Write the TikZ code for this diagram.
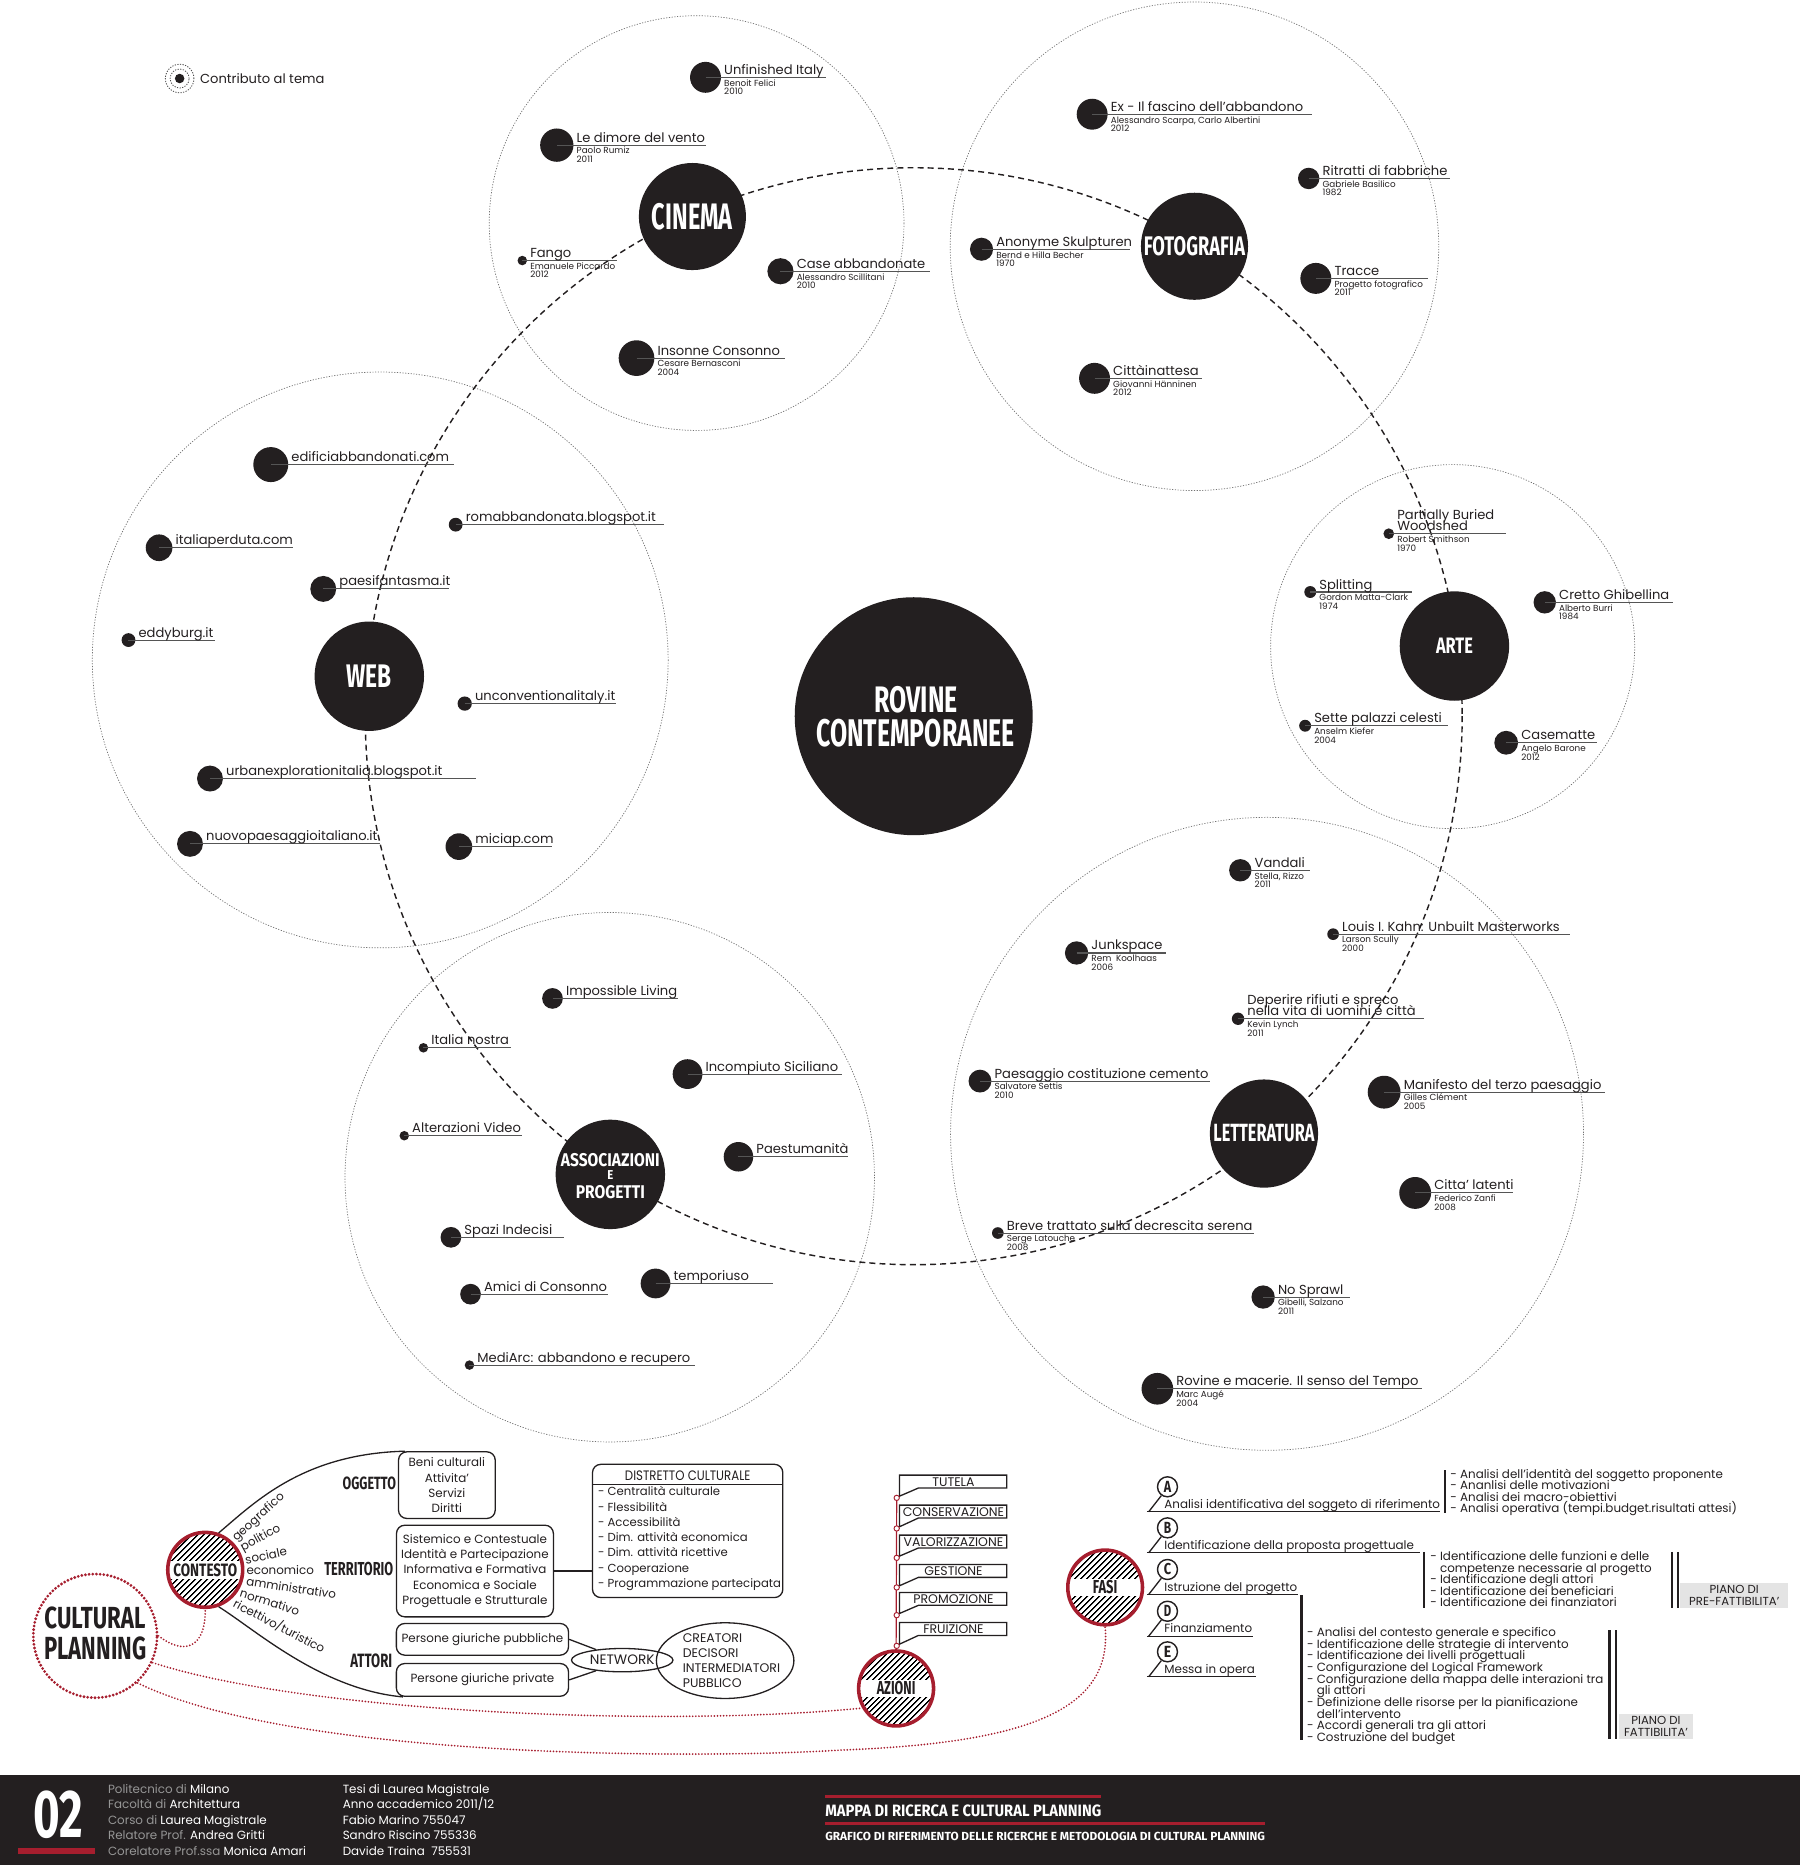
\documentclass[tikz,border=0pt]{standalone}
\usepackage{fontspec}
\usepackage{graphicx}
\setmainfont{Poppins}
\newfontfamily\cond{Fira Sans}
\newfontfamily\gnar{Poppins}[FakeStretch=0.86]
\usetikzlibrary{patterns.meta,shapes.geometric}
\definecolor{ink}{RGB}{35,31,32}
\definecolor{dred}{RGB}{166,30,46}
\definecolor{ulc}{RGB}{85,85,85}
\definecolor{pgray}{RGB}{228,228,228}
\definecolor{fgray}{RGB}{150,150,150}
\newcommand\fsz[2]{\fontsize{#1}{#2}\selectfont}
\newcommand\cnd[3]{\resizebox{#1pt}{#2pt}{\cond\bfseries #3}}
\tikzset{
 region/.style={draw=black!55, line width=0.6pt, dash pattern=on 1pt off 1.3pt},
 ring/.style={draw=ink, line width=1.2pt, dash pattern=on 5pt off 3.5pt},
 ttl/.style={font=\fsz{11}{11}},
 subt/.style={font=\fsz{7.4}{7.4}},
 ul/.style={draw=ulc, line width=0.9pt},
 cat/.style={circle, fill=ink},
 rbox/.style={draw=ink, line width=1.1pt, rounded corners=7pt},
 reddot/.style={draw=dred, line width=1.6pt, line cap=round, dash pattern=on 0pt off 2.6pt},
 cpdot/.style={draw=dred, line width=2.6pt, line cap=round, dash pattern=on 0pt off 3.1pt},
 lst/.style={font=\fsz{10}{10}, anchor=base west},
 flagtxt/.style={font=\fsz{10.5}{10.5}},
 boxtxt/.style={font=\fsz{10}{10}}
}
\newcommand\itm[8]{%
 \node[cat, minimum size={2*#4pt}] (#1) at (#2,#3) {};
 \draw[ul] (#1.center) -- (#8,#3);
 \node[ttl, anchor=base west] (#1t) at ({#2+#4+2.5},{#3-2.5}) {#5};
 \node[subt, anchor=base west] (#1a) at ({#2+#4+2.5},{#3+7.4}) {#6};
 \node[subt, anchor=base west] (#1b) at ({#2+#4+2.5},{#3+14.6}) {#7};}
\newcommand\itmm[9]{%
 \node[cat, minimum size={2*#4pt}] (#1) at (#2,#3) {};
 \draw[ul] (#1.center) -- (#9,#3);
 \node[ttl, anchor=base west] (#1u) at ({#2+#4+2.5},{#3-11.8}) {#5};
 \node[ttl, anchor=base west] (#1t) at ({#2+#4+2.5},{#3-2.5}) {#6};
 \node[subt, anchor=base west] (#1a) at ({#2+#4+2.5},{#3+7.4}) {#7};
 \node[subt, anchor=base west] (#1b) at ({#2+#4+2.5},{#3+14.6}) {#8};}
\newcommand\itw[6]{%
 \node[cat, minimum size={2*#4pt}] (#1) at (#2,#3) {};
 \draw[ul] (#1.center) -- (#6,#3);
 \node[ttl, anchor=base west] (#1t) at ({#2+#4+2.5},{#3-2.5}) {#5};}
\newcommand\hatchc[7]{%
 \begin{scope}
 \clip (#2,#3) circle (#4);
 \fill[pattern={Lines[angle=45,distance=4pt,line width=1.4pt]}] (#2,#3) circle (#4);
 \fill[white] ({#2-#4},{#3-7.5}) rectangle ({#2+#4},{#3+7.5});
 \end{scope}
 \node[circle, draw=dred, line width=3pt, minimum size={2*#4pt}] (#1) at (#2,#3) {};
 \node (#1l) at (#2,#3) {\cnd{#5}{#6}{#7}};}
\begin{document}
\begin{tikzpicture}[x=1pt,y=-1pt, every node/.style={inner sep=0pt, text=ink}]
\useasboundingbox (0,0) rectangle (1513,1567.6);
% region circles
\draw[region] (585.5,187.5) circle (174.3);
\draw[region] (1004,207) circle (205.3);
\draw[region] (319.6,554.7) circle (242);
\draw[region] (1221,543.5) circle (153);
\draw[region] (1065,953) circle (266);
\draw[region] (512.5,989.5) circle (222.5);
% ring
\draw[ring] (768,602) circle (461);
% legend
\node[circle, draw=black!70, line width=0.7pt, dash pattern=on 1pt off 1.2pt, minimum size=24pt] (lego) at (151,66) {};
\node[circle, draw=black!70, line width=0.7pt, dash pattern=on 1pt off 1.2pt, minimum size=16pt] (legm) at (151,66) {};
\node[cat, minimum size=8pt] (legi) at (151,66) {};
\node[anchor=west, font=\fsz{11}{11}] (legt) at (168,66) {Contributo al tema};
% central
\node[cat, minimum size=200pt] (rov) at (768,602) {};
\node[text=white] (rov1) at (770,588) {\cnd{70}{22}{ROVINE}};
\node[text=white] (rov2) at (769.5,616.5) {\cnd{167}{23}{CONTEMPORANEE}};
% categories
\node[cat, minimum size=90pt, text=white] (cin) at (582,182) {\cnd{68}{22}{CINEMA}};
\node[cat, minimum size=90pt, text=white] (fot) at (1004,207) {\cnd{85}{16}{FOTOGRAFIA}};
\node[cat, minimum size=92pt, text=white] (web) at (310.4,568.4) {\cnd{38}{19}{WEB}};
\node[cat, minimum size=92pt, text=white] (art) at (1222.5,543) {\cnd{31}{13}{ARTE}};
\node[cat, minimum size=91pt, text=white] (let) at (1062.4,952.8) {\cnd{85}{14.5}{LETTERATURA}};
\node[cat, minimum size=92pt] (ass) at (513,987.1) {};
\node[text=white] (ass1) at (513,975) {\cnd{83}{11}{ASSOCIAZIONI}};
\node[text=white] (ass2) at (513,987.6) {\cnd{5}{7.5}{E}};
\node[text=white] (ass3) at (513,1002) {\cnd{58}{11}{PROGETTI}};
% cinema
\itm{c1}{593}{65}{13}{Unfinished Italy}{Benoit Felici}{2010}{694}
\itm{c2}{468}{122}{14}{Le dimore del vento}{Paolo Rumiz}{2011}{593}
\itm{c3}{439}{219}{4}{Fango}{Emanuele Piccardo}{2012}{519}
\itm{c4}{656}{228}{11}{Case abbandonate}{Alessandro Scillitani}{2010}{782}
\itm{c5}{535}{301}{15}{Insonne Consonno}{Cesare Bernasconi}{2004}{660}
% fotografia
\itm{f1}{918}{96}{13}{Ex - Il fascino dell'abbandono}{Alessandro Scarpa, Carlo Albertini}{2012}{1103}
\itm{f2}{1100}{150}{9}{Ritratti di fabbriche}{Gabriele Basilico}{1982}{1219}
\itm{f3}{825}{209.5}{9.7}{Anonyme Skulpturen}{Bernd e Hilla Becher}{1970}{950}
\itm{f4}{1106}{234}{13}{Tracce}{Progetto fotografico}{2011}{1200}
\itm{f5}{920}{318}{13}{Cittàinattesa}{Giovanni Hänninen}{2012}{1010}
% web
\itw{w1}{227.6}{390.5}{14.7}{edificiabbandonati.com}{382}
\itw{w2}{383}{441}{5.8}{romabbandonata.blogspot.it}{558}
\itw{w3}{133.7}{460.4}{11.2}{italiaperduta.com}{246}
\itw{w4}{271.7}{495}{10.9}{paesifantasma.it}{377}
\itw{w5}{108}{538}{5.8}{eddyburg.it}{180.8}
\itw{w6}{390.6}{591.4}{6}{unconventionalitaly.it}{517.6}
\itw{w7}{176.5}{654.4}{10.9}{urbanexplorationitalia.blogspot.it}{399.7}
\itw{w8}{159.7}{709.3}{10.9}{nuovopaesaggioitaliano.it}{319.4}
\itw{w9}{385.7}{711.6}{11.2}{miciap.com}{464}
% arte
\itmm{a1}{1167.3}{448.6}{4.5}{Partially Buried}{Woodshed}{Robert Smithson}{1970}{1265.6}
\itm{a2}{1101.3}{497.6}{5}{Splitting}{Gordon Matta-Clark}{1974}{1186.4}
\itm{a3}{1298.4}{506.3}{9.4}{Cretto Ghibellina}{Alberto Burri}{1984}{1406.6}
\itm{a4}{1097}{610}{5}{Sette palazzi celesti}{Anselm Kiefer}{2004}{1217}
\itm{a5}{1266}{624.3}{10}{Casematte}{Angelo Barone}{2012}{1342}
% letteratura
\itm{l1}{1042.5}{731.5}{9.4}{Vandali}{Stella, Rizzo}{2011}{1100.8}
\itm{l2}{1120.5}{785.2}{4.9}{Louis I. Kahn: Unbuilt Masterworks}{Larson Scully}{2000}{1319.6}
\itm{l3}{904.9}{801}{9.8}{Junkspace}{Rem\ \ Koolhaas}{2006}{979.8}
\itmm{l4}{1040.6}{856.3}{5.2}{Deperire rifiuti e spreco}{nella vita di uomini e città}{Kevin Lynch}{2011}{1196.6}
\itm{l5}{823.7}{908.7}{9.6}{Paesaggio costituzione cemento}{Salvatore Settis}{2010}{1017}
\itm{l6}{1163.4}{918}{13.8}{Manifesto del terzo paesaggio}{Gilles Clément}{2005}{1349}
\itm{l7}{1189.5}{1002.7}{13.4}{Citta' latenti}{Federico Zanfi}{2008}{1271.5}
\itm{l8}{838.7}{1036.4}{4.9}{Breve trattato sulla decrescita serena}{Serge Latouche}{2008}{1054}
\itm{l9}{1061.7}{1090.2}{9.8}{No Sprawl}{Gibelli, Salzano}{2011}{1134.8}
\itm{l10}{972.8}{1167.3}{13.3}{Rovine e macerie. Il senso del Tempo}{Marc Augé}{2004}{1195.2}
% associazioni
\itw{s1}{464.4}{839.2}{8.7}{Impossible Living}{570}
\itw{s2}{355.9}{880.7}{4}{Italia nostra}{429.6}
\itw{s3}{577.9}{902.8}{12.5}{Incompiuto Siciliano}{707.4}
\itw{s4}{339.8}{954.6}{4}{Alterazioni Video}{439.1}
\itw{s5}{620.7}{972.3}{12.4}{Paestumanità}{713}
\itw{s6}{379}{1040}{8.7}{Spazi Indecisi}{473.8}
\itw{s7}{551}{1078.8}{12.5}{temporiuso}{649.8}
\itw{s8}{395.5}{1087.8}{8.7}{Amici di Consonno}{511}
\itw{s9}{394.6}{1147.4}{4}{MediArc: abbandono e recupero}{584.5}
% ===== bottom: cultural planning
\node[circle, cpdot, minimum size=104pt] (cp) at (80,1375) {};
\node (cp1) at (79.8,1359.7) {\cnd{84.8}{18.2}{CULTURAL}};
\node (cp2) at (80.1,1385.4) {\cnd{85.7}{19.1}{PLANNING}};
\hatchc{ctx}{172.5}{1319.5}{31.5}{53.6}{10.7}{CONTESTO}
\hatchc{az}{753.2}{1419.2}{31.5}{32.5}{11.2}{AZIONI}
\hatchc{fa}{928.9}{1334.3}{31.4}{20.5}{11.2}{FASI}
\draw[reddot] (cp.east) .. controls (155,1392) and (173,1385) .. (ctx.south);
\draw[reddot] (cp.-25) .. controls (260,1440) and (560,1452) .. (az.210);
\draw[reddot] (cp.-48) .. controls (250,1480) and (600,1478) .. (706,1471) .. controls (870,1465) and (935,1435) .. (fa.south);
% boxes
\node[rbox, minimum width=81.3pt, minimum height=56pt, align=center, font=\fsz{10}{12.8}] (ogg) at (375.6,1248.3) {Beni culturali\\Attivita'\\Servizi\\Diritti};
\node[rbox, minimum width=131.9pt, minimum height=77pt, align=center, font=\fsz{10}{12.9}] (ter) at (399.2,1320.5) {Sistemico e Contestuale\\Identità e Partecipazione\\Informativa e Formativa\\Economica e Sociale\\Progettuale e Strutturale};
\node[rbox, minimum width=144.7pt, minimum height=26.6pt, boxtxt] (pub) at (405.5,1377.9) {Persone giuriche pubbliche};
\node[rbox, minimum width=144.7pt, minimum height=27.5pt, boxtxt] (pri) at (405.5,1412) {Persone giuriche private};
\node[rbox, minimum width=160pt, minimum height=112pt] (dis) at (578,1286.8) {};
\node[font=\gnar\fsz{11.5}{11.5}] (dist) at (578,1240.5) {DISTRETTO CULTURALE};
\coordinate (sepy) at (0,1247.8);
\draw[ink, line width=1.1pt] (dis.west |- sepy) -- (dis.east |- sepy);
\foreach \t [count=\i] in {Centralità culturale, Flessibilità, Accessibilità, Dim. attività economica, Dim. attività ricettive, Cooperazione, Programmazione partecipata}
  \node[anchor=base west, font=\fsz{9.8}{9.8}] (dl\i) at (502.5,{1257.4+12.8*(\i-1)}) {- \t};
\draw[ink, line width=1.1pt] (ter.east) -- (dis.west |- ter.east);
\node[ellipse, draw=ink, line width=1.1pt, minimum width=85.3pt, minimum height=19.6pt, font=\fsz{11.5}{11.5}] (net) at (523,1395.4) {NETWORK};
\node[ellipse, draw=ink, line width=1.1pt, minimum width=115.6pt, minimum height=63.6pt] (cre) at (609.5,1395.8) {};
\foreach \t [count=\i] in {CREATORI, DECISORI, INTERMEDIATORI, PUBBLICO}
  \node[anchor=base west, font=\fsz{10.5}{10.5}] (cr\i) at (573.7,{1380.2+12.7*(\i-1)}) {\t};
\draw[ink, line width=1.1pt] (pub.east) -- (net.158);
\draw[ink, line width=1.1pt] (pri.east) -- (net.202);
% curves from contesto
\draw[ink, line width=1.1pt] (ctx.70) .. controls (215,1262) and (255,1222) .. ([xshift=6pt]ogg.north west);
\draw[ink, line width=1.1pt] (ctx.-70) .. controls (215,1370) and (270,1420) .. ([xshift=6pt]pri.south west);
% fan labels
\node[anchor=west, rotate=42, font=\fsz{10}{10}] (g1) at (197,1294) {geografico};
\node[anchor=west, rotate=29, font=\fsz{10}{10}] (g2) at (203,1302) {politico};
\node[anchor=west, rotate=12, font=\fsz{10}{10}] (g3) at (206,1311) {sociale};
\node[anchor=west, font=\fsz{10}{10}] (g4) at (207,1319.5) {economico};
\node[anchor=west, rotate=-9, font=\fsz{10}{10}] (g5) at (207,1328.5) {amministrativo};
\node[anchor=west, rotate=-17.6, font=\fsz{10}{10}] (g6) at (202,1338.5) {normativo};
\node[anchor=west, rotate=-27.5, font=\fsz{10}{10}] (g7) at (197,1347) {ricettivo/turistico};
\node (lo) at (310.4,1247.2) {\cnd{44.8}{10.6}{OGGETTO}};
\node (lt) at (301.6,1319.2) {\cnd{58}{11.2}{TERRITORIO}};
\node (la) at (312.1,1395.9) {\cnd{35.2}{11.5}{ATTORI}};
% azioni flags
\foreach \tp/\dy/\lab [count=\i] in {1239.9/1259/TUTELA, 1265.1/1284.7/CONSERVAZIONE, 1290.3/1309.4/VALORIZZAZIONE, 1315/1334.3/GESTIONE, 1338.5/1357.6/PROMOZIONE, 1363.8/1383.4/FRUIZIONE}{
  \draw[ink, line width=1.1pt] (756,\tp) -- (846.2,\tp) -- (846.2,{\tp+10.8}) -- (772,{\tp+10.8}) -- (756,{\dy-1.4}) -- cycle;
  \node[flagtxt] (ft\i) at (801.4,{\tp+5.6}) {\lab};
}
\node[circle, draw=dred, fill=white, line width=0.8pt, minimum size=4.5pt] (fd1) at (753.7,1259) {};
\draw[dred, line width=1pt] (az.north) -- (fd1.south);
\foreach \dy [count=\i from 2] in {1284.7,1309.4,1334.3,1357.6,1383.4}
  \node[circle, draw=dred, fill=white, line width=0.8pt, minimum size=4.5pt] (fd\i) at (753.7,\dy) {};
% fasi letters
\foreach \L/\ul/\ex/\txt [count=\i] in {A/1270.7/1210.5/{Analisi identificativa del soggeto di riferimento}, B/1305.2/1193.7/{Identificazione della proposta progettuale}, C/1340.2/1091.4/{Istruzione del progetto}, D/1375.3/1053.5/{Finanziamento}, E/1409.4/1055.8/{Messa in opera}}{
  \node[circle, draw=ink, fill=white, line width=1.2pt, minimum size=16.8pt] (Lc\i) at (981.3,{\ul-21}) {\cnd{6.2}{9.4}{\L}};
  \draw[ink, line width=1.1pt] (963.9,\ul) -- (\ex,\ul);
  \draw[ink, line width=1.1pt] (965.5,\ul) -- (Lc\i.235);
  \node[anchor=base west, font=\fsz{10}{10}] (Lt\i) at (978.5,{\ul-2.8}) {\txt};
}
% list A
\draw[ink, line width=2.2pt] (1214.7,1235.7) -- (1214.7,1271.3);
\foreach \t [count=\i] in {{- Analisi dell'identità del soggetto proponente}, {- Ananlisi delle motivazioni}, {- Analisi dei macro-obiettivi}, {- Analisi operativa (tempi.budget.risultati attesi)}}
  \node[lst] (lA\i) at (1218.9,{1242.3+9.8*(\i-1)}) {\t};
% list B
\draw[ink, line width=2.2pt] (1197,1304.4) -- (1197,1351.2);
\foreach \t [count=\i] in {{- Identificazione delle funzioni e delle}, {\phantom{- }competenze\ necessarie al progetto}, {- Identificazione degli attori}, {- Identificazione dei beneficiari}, {- Identificazione dei finanziatori}}
  \node[lst] (lB\i) at (1202,{1311.9+9.65*(\i-1)}) {\t};
\draw[ink, line width=2.2pt] (1405.2,1304.4) -- (1405.2,1351.2);
\draw[ink, line width=2.2pt] (1410.3,1304.4) -- (1410.3,1351.2);
\node[fill=pgray, minimum width=91pt, minimum height=20.8pt, align=center, font=\fsz{9.8}{9.8}] (pf1) at (1457.7,1340.8) {PIANO DI\\PRE-FATTIBILITA'};
% list C
\draw[ink, line width=2.2pt] (1094.2,1340.8) -- (1094.2,1462.7);
\foreach \t [count=\i] in {{- Analisi del contesto generale e specifico}, {- Identificazione delle strategie di intervento}, {- Identificazione dei livelli progettuali}, {- Configurazione del Logical Framework}, {- Configurazione della mappa delle interazioni tra}, {\phantom{- }gli attori}, {- Definizione delle risorse per la pianificazione}, {\phantom{- }dell'intervento}, {- Accordi generali tra gli attori}, {- Costruzione del budget}}
  \node[lst] (lC\i) at (1098.4,{1375.5+9.8*(\i-1)}) {\t};
\draw[ink, line width=2.2pt] (1352.8,1370.2) -- (1352.8,1461.3);
\draw[ink, line width=2.2pt] (1358.4,1370.2) -- (1358.4,1461.3);
\node[fill=pgray, minimum width=63pt, minimum height=21pt, align=center, font=\fsz{9.8}{9.8}] (pf2) at (1391.9,1450.8) {PIANO DI\\FATTIBILITA'};
% ===== footer
\fill[ink] (0,1492.1) rectangle (1513,1567.6);
\node[text=white] (num) at (48.8,1525.7) {\cnd{41.8}{39.2}{02}};
\fill[dred] (15.3,1553.7) rectangle (80.2,1558.5);
\foreach \a/\b [count=\i] in {Politecnico di/Milano, Facoltà di/Architettura, Corso di/Laurea Magistrale, Relatore Prof./Andrea Gritti, Corelatore Prof.ssa/Monica Amari}
  \node[anchor=base west, font=\fsz{10}{10}, text=white] (fc\i) at (90.6,{1507.4+13.03*(\i-1)}) {{\color{fgray}\a} \b};
\foreach \t [count=\i] in {Tesi di Laurea Magistrale, Anno accademico 2011/12, Fabio Marino 755047, Sandro Riscino 755336, Davide Traina\ \ 755531}
  \node[anchor=base west, font=\fsz{10}{10}, text=white] (fd\i x) at (287.9,{1507.4+13.03*(\i-1)}) {\t};
\draw[dred, line width=2.2pt] (693.5,1509.8) -- (925.6,1509.8);
\draw[dred, line width=2.2pt] (693.5,1532.7) -- (1063,1532.7);
\node[text=white, anchor=west] (tit1) at (693.5,1522.2) {\cnd{232}{9.8}{MAPPA DI RICERCA E CULTURAL PLANNING}};
\node[text=white, anchor=west] (tit2) at (693.5,1543.2) {\cnd{369.5}{7}{GRAFICO DI RIFERIMENTO DELLE RICERCHE E METODOLOGIA DI CULTURAL PLANNING}};
\end{tikzpicture}
\end{document}
